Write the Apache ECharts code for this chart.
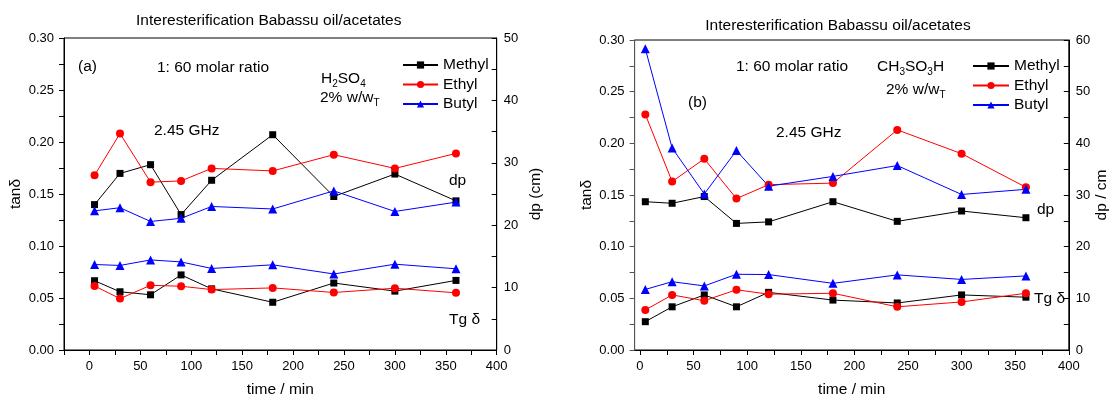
<!DOCTYPE html>
<html>
<head>
<meta charset="utf-8">
<script src="https://cdn.jsdelivr.net/npm/echarts@6/dist/echarts.min.js"></script>
<style>
html,body{margin:0;padding:0;background:#fff;}
#chart{width:1112px;height:403px;}
</style>
</head>
<body>
<div id="chart"></div>
<script>
// ---- data ----
const times = [5, 30, 60, 90, 120, 180, 240, 300, 360];

// Panel (a): H2SO4
const methylDpA = [23.3, 28.3, 29.7, 21.7, 27.2, 34.5, 24.6, 28.2, 23.9];
const ethylDpA  = [28.0, 34.7, 26.9, 27.1, 29.1, 28.7, 31.3, 29.1, 31.5];
const butylDpA  = [22.3, 22.8, 20.6, 21.1, 23.0, 22.6, 25.5, 22.2, 23.7];
const methylTanA = [0.0666, 0.0560, 0.0531, 0.0722, 0.0588, 0.0459, 0.0644, 0.0566, 0.0669];
const ethylTanA  = [0.0616, 0.0494, 0.0622, 0.0613, 0.0581, 0.0597, 0.0553, 0.0594, 0.0550];
const butylTanA  = [0.0822, 0.0813, 0.0866, 0.0847, 0.0784, 0.0819, 0.0731, 0.0825, 0.0781];

// Panel (b): CH3SO3H
const methylDpB = [28.7, 28.4, 29.7, 24.5, 24.8, 28.7, 24.9, 26.9, 25.6];
const ethylDpB  = [45.6, 32.6, 37.0, 29.3, 32.0, 32.3, 42.6, 38.0, 31.5];
const butylDpB  = [58.3, 39.1, 30.2, 38.6, 31.7, 33.6, 35.7, 30.1, 31.1];
const methylTanB = [0.0274, 0.0418, 0.0533, 0.0418, 0.0558, 0.0483, 0.0455, 0.0533, 0.0511];
const ethylTanB  = [0.0387, 0.0533, 0.0477, 0.0583, 0.0540, 0.0549, 0.0418, 0.0465, 0.0549];
const butylTanB  = [0.0586, 0.0661, 0.0620, 0.0733, 0.0730, 0.0645, 0.0727, 0.0683, 0.0717];

const xLabelValues = [0, 50, 100, 150, 200, 250, 300, 350, 400];
const xTickValuesA = [-25, 0, 25, 50, 75, 100, 125, 150, 175, 200, 225, 250, 275, 300, 325, 350, 375, 400];
const xTickValuesB = [0, 25, 50, 75, 100, 125, 150, 175, 200, 225, 250, 275, 300, 325, 350, 375, 400];
const legendNames = ['Methyl', 'Ethyl', 'Butyl'];

// ---- chart ----
const FONT = '"Liberation Sans", Arial, sans-serif';
const chart = echarts.init(document.getElementById('chart'), null, {renderer: 'canvas'});

function pairs(arr) { return times.map((t, i) => [t, arr[i]]); }

const styles = {
  Methyl: {color: '#000000', symbol: 'rect', size: 7},
  Ethyl:  {color: '#ff0000', symbol: 'circle', size: 8},
  Butyl:  {color: '#0000ff', symbol: 'triangle', size: 9}
};

function mk(name, arr, xi, yi) {
  const s = styles[name];
  return {
    name: name, type: 'line', xAxisIndex: xi, yAxisIndex: yi,
    data: pairs(arr), symbol: s.symbol, symbolSize: s.size, showSymbol: true,
    lineStyle: {color: s.color, width: 1}, itemStyle: {color: s.color},
    emphasis: {disabled: true}
  };
}

function xAxis(gi, min, ticks, axisColor) {
  return {
    gridIndex: gi, type: 'value', min: min, max: 400,
    name: 'time / min', nameLocation: 'middle', nameGap: 32,
    nameTextStyle: {fontSize: 15.5, color: '#000', fontFamily: FONT},
    axisLine: {show: true, onZero: false, lineStyle: {color: axisColor, width: 1}},
    axisTick: {show: true, inside: false, length: 5, customValues: ticks, lineStyle: {color: axisColor}},
    axisLabel: {customValues: xLabelValues, fontSize: 13, color: '#000', fontFamily: FONT, margin: 10},
    splitLine: {show: false}
  };
}
function yLeft(gi, axisColor, gap) {
  return {
    gridIndex: gi, type: 'value', position: 'left', min: 0, max: 0.3, interval: 0.05,
    name: 'tanδ', nameLocation: 'middle', nameGap: gap,
    nameTextStyle: {fontSize: 15.5, color: '#000', fontFamily: FONT},
    axisLine: {show: true, onZero: false, lineStyle: {color: axisColor, width: 1}},
    axisTick: {show: true, inside: false, length: 5, lineStyle: {color: axisColor}},
    minorTick: {show: true, splitNumber: 2, length: 5, lineStyle: {color: axisColor}},
    axisLabel: {formatter: v => v.toFixed(2), fontSize: 13, color: '#000', fontFamily: FONT, margin: 10},
    splitLine: {show: false}, minorSplitLine: {show: false}
  };
}
function yRight(gi, max, name, gap) {
  return {
    gridIndex: gi, type: 'value', position: 'right', min: 0, max: max, interval: 10,
    name: name, nameLocation: 'middle', nameGap: gap,
    nameTextStyle: {fontSize: 15.5, color: '#000', fontFamily: FONT},
    axisLine: {show: true, onZero: false, lineStyle: {color: '#000', width: 1}},
    axisTick: {show: true, inside: true, length: 5, lineStyle: {color: '#000'}},
    minorTick: {show: true, splitNumber: 2, length: 5, lineStyle: {color: '#000'}},
    axisLabel: {fontSize: 13, color: '#000', fontFamily: FONT, margin: 7},
    splitLine: {show: false}, minorSplitLine: {show: false}
  };
}

function txt(x, y, text, opts) {
  return {
    type: 'text', x: x, y: y, silent: true,
    style: Object.assign({text: text, fontSize: 15.5, fontFamily: FONT, fill: '#000',
      align: 'left', verticalAlign: 'middle'}, opts || {})
  };
}
const subRich = {
  n: {fontSize: 15.5, fontFamily: FONT, lineHeight: 20, verticalAlign: 'middle'},
  s: {fontSize: 10, fontFamily: FONT, lineHeight: 8, verticalAlign: 'bottom'}
};

function legend(left, top, iw) {
  return {
    data: legendNames, orient: 'vertical', left: left, top: top,
    itemWidth: iw, itemHeight: 9, itemGap: 3.5, padding: 0,
    textStyle: {fontSize: 15.5, color: '#000', fontFamily: FONT, lineHeight: 16},
    selectedMode: false
  };
}

const option = {
  animation: false,
  backgroundColor: '#fff',
  grid: [
    {left: 64, top: 38, width: 432.7, height: 320.4, show: true, borderColor: '#000', borderWidth: 1, backgroundColor: 'transparent'},
    {left: 634.6, top: 40, width: 434.2, height: 320.4, show: true, borderColor: '#000', borderWidth: 1, backgroundColor: 'transparent'}
  ],
  legend: [legend(402, 57, 35), legend(972, 58, 36)],
  xAxis: [xAxis(0, -25, xTickValuesA, '#000'), xAxis(1, -5, xTickValuesB, '#000')],
  yAxis: [yLeft(0, '#000', 40), yRight(0, 50, 'dp (cm)', 31), yLeft(1, '#555', 40), yRight(1, 60, 'dp / cm', 25)],
  series: [
    mk('Methyl', methylDpA, 0, 1), mk('Ethyl', ethylDpA, 0, 1), mk('Butyl', butylDpA, 0, 1),
    mk('Methyl', methylTanA, 0, 0), mk('Ethyl', ethylTanA, 0, 0), mk('Butyl', butylTanA, 0, 0),
    mk('Methyl', methylDpB, 1, 3), mk('Ethyl', ethylDpB, 1, 3), mk('Butyl', butylDpB, 1, 3),
    mk('Methyl', methylTanB, 1, 2), mk('Ethyl', ethylTanB, 1, 2), mk('Butyl', butylTanB, 1, 2)
  ],
  graphic: [
    txt(268.75, 21, 'Interesterification Babassu oil/acetates', {align: 'center'}),
    txt(78, 67, '(a)'),
    txt(157, 68, '1: 60 molar ratio'),
    txt(321, 79, '{n|H}{s|2}{n|SO}{s|4}', {rich: subRich}),
    txt(320, 98, '{n|2% w/w}{s|T}', {rich: subRich}),
    txt(154, 131, '2.45 GHz'),
    txt(449, 181, 'dp'),
    txt(449, 320, 'Tg δ'),

    txt(838, 26, 'Interesterification Babassu oil/acetates', {align: 'center'}),
    txt(736, 67, '1: 60 molar ratio'),
    txt(877, 67, '{n|CH}{s|3}{n|SO}{s|3}{n|H}', {rich: subRich}),
    txt(886, 90, '{n|2% w/w}{s|T}', {rich: subRich}),
    txt(688, 103, '(b)'),
    txt(776, 133, '2.45 GHz'),
    txt(1037, 210, 'dp'),
    txt(1034, 299, 'Tg δ')
  ]
};
chart.setOption(option);
</script>
</body>
</html>
